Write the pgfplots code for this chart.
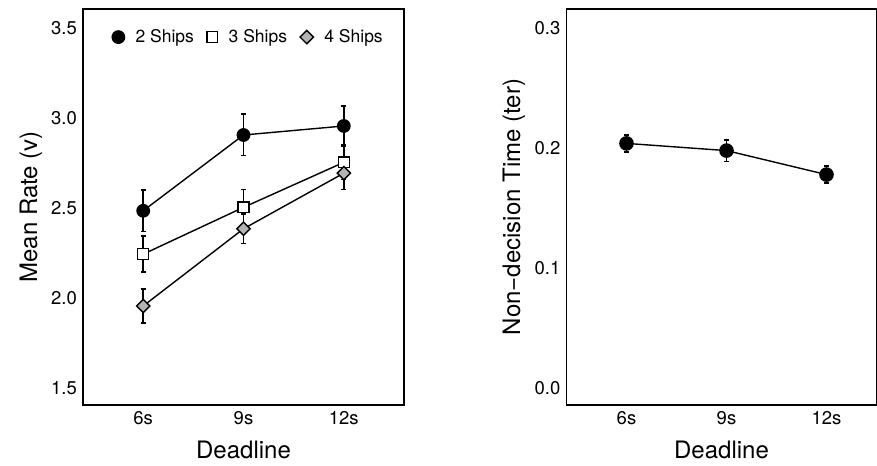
\documentclass[border=0pt]{standalone}
\usepackage{fontspec}
\setmainfont{TeX Gyre Heros}
\usepackage{pgfplots}
\usepackage{pgfplotstable}
\pgfplotsset{compat=1.18}
\definecolor{diagray}{RGB}{179,179,179}

% x: 0=6s, 1=9s, 2=12s; e = half length of the error bar
\pgfplotstableread{
x y e
0 2.485 0.115
1 2.906 0.115
2 2.956 0.110
}\twoships
\pgfplotstableread{
x y e
0 2.244 0.100
1 2.504 0.100
2 2.754 0.096
}\threeships
\pgfplotstableread{
x y e
0 1.956 0.095
1 2.385 0.081
2 2.694 0.090
}\fourships
\pgfplotstableread{
x y e
0 0.204 0.007
1 0.198 0.009
2 0.178 0.007
}\ter

\pgfplotsset{
  panel/.style={
    scale only axis,
    height=396bp,
    axis line style={line width=1.1bp},
    major tick length=0pt,
    xmin=-0.6,
    xtick={0,1,2},
    xticklabels={6s,9s,12s},
    /pgf/number format/assume math mode=true,
    tick label style={font=\fontsize{18.5bp}{22bp}\selectfont, inner sep=0pt},
    xticklabel style={anchor=base, yshift=-19bp},
    yticklabel style={anchor=east, xshift=-6bp,
      /pgf/number format/.cd, fixed, fixed zerofill, precision=1},
    label style={font=\fontsize{24bp}{28bp}\selectfont},
    xlabel={Deadline},
    xlabel style={at={(axis description cs:0.5,-0.134)}, anchor=base},
    ylabel style={anchor=base},
    clip=false,
  },
  ser/.style={
    black, line width=1.4bp,
    mark options={solid, line width=1bp},
  },
  ebar/.style={
    forget plot, only marks, mark=none, black,
    error bars/y dir=both,
    error bars/y explicit,
    error bars/error bar style={line width=1.8bp, black},
    error bars/error mark options={rotate=90, mark size=2.4bp, line width=1.6bp, black},
  },
}

\begin{document}
\begin{tikzpicture}

% left panel: drift rate
\begin{axis}[
  panel,
  at={(83bp,61bp)}, anchor=south west,
  width=321bp,
  xmax=2.6,
  ymin=1.406, ymax=3.606,
  ytick={1.5,2.0,2.5,3.0,3.5},
  ylabel={Mean Rate (v)},
  ylabel style={at={(axis description cs:-0.143,0.5)}},
  legend columns=3,
  legend image code/.code={\draw[#1, only marks] plot coordinates {(0bp,0bp)};},
  legend style={
    at={(axis description cs:0.0903,0.929)}, anchor=west,
    draw=none, fill=none, inner sep=0pt,
    font=\fontsize{17.5bp}{20bp}\selectfont,
    nodes={inner sep=0pt},
    /tikz/every odd column/.append style={column sep=11bp},
    /tikz/every even column/.append style={column sep=13bp},
  },
]
\addplot[ebar] table[x=x, y=y, y error=e] {\twoships};
\addplot[ser, mark=*, mark size=6.2bp, mark options={fill=black}]
  table[x=x, y=y] {\twoships};
\addlegendentry{2 Ships}
\addplot[ebar] table[x=x, y=y, y error=e] {\threeships};
\addplot[ser, mark=square*, mark size=5.4bp, mark options={fill=white}]
  table[x=x, y=y] {\threeships};
\addlegendentry{3 Ships}
\addplot[ebar] table[x=x, y=y, y error=e] {\fourships};
\addplot[ser, mark=square*, mark size=4.7bp, mark options={fill=diagray, rotate=45}]
  table[x=x, y=y] {\fourships};
\addlegendentry{4 Ships}
\end{axis}

% right panel: non-decision time
\begin{axis}[
  panel,
  at={(566.5bp,61bp)}, anchor=south west,
  width=310bp,
  xmax=2.5,
  ymin=-0.014, ymax=0.316,
  ytick={0,0.1,0.2,0.3},
  ylabel={Non−decision Time (ter)},
  ylabel style={at={(axis description cs:-0.15,0.5)}},
]
\addplot[ebar] table[x=x, y=y, y error=e] {\ter};
\addplot[ser, mark=*, mark size=6.6bp, mark options={fill=black}]
  table[x=x, y=y] {\ter};
\end{axis}

\pgfresetboundingbox
\useasboundingbox (0,0) rectangle (877bp,466bp);
\end{tikzpicture}
\end{document}
